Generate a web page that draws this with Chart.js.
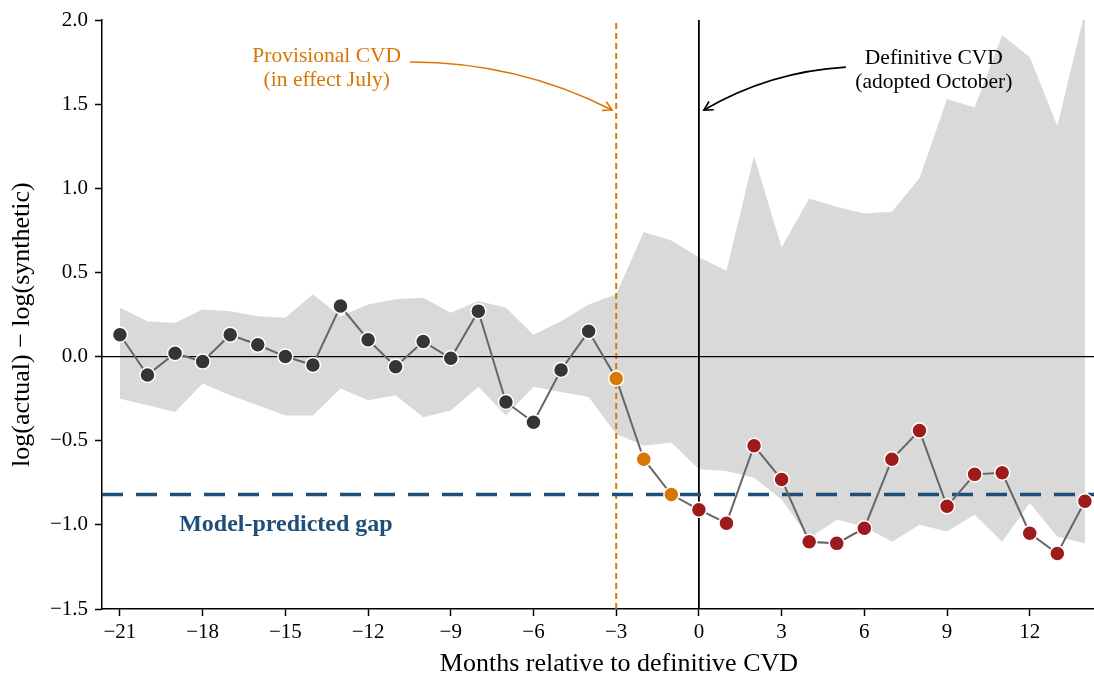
<!DOCTYPE html>
<html>
<head>
<meta charset="utf-8">
<script src="https://cdn.jsdelivr.net/npm/chart.js@4.4.1/dist/chart.umd.min.js"></script>
<style>
  html, body { margin: 0; padding: 0; background: #fff; }
  canvas { display: block; }
</style>
</head>
<body>
<canvas id="gapChart" width="1094" height="674"></canvas>
<script>
// months relative to the definitive CVD
const months = [-21, -20, -19, -18, -17, -16, -15, -14, -13, -12, -11, -10, -9, -8, -7, -6, -5, -4,
                -3, -2, -1, 0, 1, 2, 3, 4, 5, 6, 7, 8, 9, 10, 11, 12, 13, 14];

// log(actual) - log(synthetic)
const gap = [0.13, -0.11, 0.02, -0.03, 0.13, 0.07, 0.00, -0.05, 0.30, 0.10, -0.06, 0.09, -0.01, 0.27,
             -0.27, -0.39, -0.08, 0.15, -0.13, -0.61, -0.82, -0.91, -0.99, -0.53, -0.73, -1.10, -1.11,
             -1.02, -0.61, -0.44, -0.89, -0.70, -0.69, -1.05, -1.17, -0.86];

// placebo band
const bandUpper = [0.29, 0.21, 0.20, 0.28, 0.27, 0.24, 0.23, 0.37, 0.24, 0.31, 0.34, 0.35, 0.26, 0.33,
                   0.29, 0.13, 0.21, 0.31, 0.37, 0.74, 0.69, 0.59, 0.51, 1.19, 0.65, 0.94, 0.89, 0.85,
                   0.86, 1.06, 1.53, 1.48, 1.91, 1.78, 1.37, 2.05];
const bandLower = [-0.25, -0.29, -0.33, -0.16, -0.23, -0.29, -0.35, -0.35, -0.19, -0.26, -0.23, -0.36,
                   -0.32, -0.18, -0.35, -0.18, -0.21, -0.24, -0.46, -0.53, -0.51, -0.67, -0.68, -0.72,
                   -0.85, -1.08, -0.97, -1.01, -1.10, -1.00, -1.04, -0.94, -1.10, -0.87, -1.07, -1.11];

const predictedGap = -0.82;
const provisionalMonth = -3;
const definitiveMonth = 0;

const xTicks = [-21, -18, -15, -12, -9, -6, -3, 0, 3, 6, 9, 12];
const yTicks = [-1.5, -1.0, -0.5, 0.0, 0.5, 1.0, 1.5, 2.0];
const xRange = [-21.65, 14.33];
const yRange = [-1.5, 2.0];

const ORANGE = '#d97706';
const RED = '#9e1b1b';
const DARK = '#353535';
const NAVY = '#1f4e79';
const SERIF = '"Liberation Serif", "Times New Roman", serif';

Chart.defaults.font.family = SERIF;
Chart.defaults.color = '#000';

const fmt = v => (v < 0 ? '\u2212' : '') + Math.abs(v);
const fmt1 = v => (v < 0 ? '\u2212' : '') + Math.abs(v).toFixed(1);

function curvedArrow(ctx, x1, y1, x2, y2, bend, color) {
  const mx = (x1 + x2) / 2, my = (y1 + y2) / 2;
  const cx = mx + bend * (y2 - y1), cy = my - bend * (x2 - x1);
  ctx.save();
  ctx.strokeStyle = color;
  ctx.lineWidth = 1.6;
  ctx.beginPath();
  ctx.moveTo(x1, y1);
  ctx.quadraticCurveTo(cx, cy, x2, y2);
  ctx.stroke();
  const ang = Math.atan2(y2 - cy, x2 - cx);
  const L = 10;
  ctx.beginPath();
  ctx.moveTo(x2 - L * Math.cos(ang - 0.5), y2 - L * Math.sin(ang - 0.5));
  ctx.lineTo(x2, y2);
  ctx.lineTo(x2 - L * Math.cos(ang + 0.5), y2 - L * Math.sin(ang + 0.5));
  ctx.stroke();
  ctx.restore();
}

const notesPlugin = {
  id: 'cvdNotes',
  afterDatasetsDraw(chart) {
    const { ctx, chartArea, scales: { x, y } } = chart;
    ctx.save();
    ctx.textAlign = 'center';
    ctx.textBaseline = 'middle';

    ctx.font = '21.5px ' + SERIF;
    ctx.fillStyle = ORANGE;
    let tx = x.getPixelForValue(-13.5), ty = y.getPixelForValue(1.71);
    ctx.fillText('Provisional CVD', tx, ty - 12);
    ctx.fillText('(in effect July)', tx, ty + 12);
    curvedArrow(ctx, x.getPixelForValue(-10.48), y.getPixelForValue(1.75),
                x.getPixelForValue(-3.15), y.getPixelForValue(1.465), 0.12, ORANGE);

    ctx.fillStyle = '#000';
    tx = x.getPixelForValue(8.52); ty = y.getPixelForValue(1.70);
    ctx.fillText('Definitive CVD', tx, ty - 12);
    ctx.fillText('(adopted October)', tx, ty + 12);
    curvedArrow(ctx, x.getPixelForValue(5.33), y.getPixelForValue(1.72),
                x.getPixelForValue(0.18), y.getPixelForValue(1.465), -0.12, '#000');

    ctx.font = 'bold 24px ' + SERIF;
    ctx.fillStyle = NAVY;
    ctx.fillText('Model-predicted gap', x.getPixelForValue(-14.98), y.getPixelForValue(-1.0));

    // axis titles (the original axes ran a bit past the figure's right edge)
    ctx.fillStyle = '#000';
    ctx.font = '26px ' + SERIF;
    ctx.fillText('Months relative to definitive CVD', x.getPixelForValue(-2.9), chartArea.bottom + 55);
    ctx.translate(chartArea.left - 80, y.getPixelForValue(0.19));
    ctx.rotate(-Math.PI / 2);
    ctx.fillText('log(actual) \u2212 log(synthetic)', 0, 0);
    ctx.restore();
  }
};

const pointColor = c => {
  const m = c.raw ? c.raw.x : 0;
  if (m < provisionalMonth) return DARK;
  if (m < definitiveMonth) return ORANGE;
  return RED;
};

new Chart(document.getElementById('gapChart').getContext('2d'), {
  type: 'line',
  data: {
    datasets: [
      {
        data: months.map((m, i) => ({ x: m, y: bandUpper[i] })),
        backgroundColor: '#d9d9d9', borderWidth: 0, pointRadius: 0, fill: '+1', order: 3
      },
      {
        data: months.map((m, i) => ({ x: m, y: bandLower[i] })),
        backgroundColor: '#d9d9d9', borderWidth: 0, pointRadius: 0, fill: false, order: 3
      },
      {
        data: [{ x: xRange[0], y: 0 }, { x: xRange[1], y: 0 }],
        borderColor: '#000', borderWidth: 1.3, pointRadius: 0, order: 2
      },
      {
        data: [{ x: xRange[0], y: predictedGap }, { x: xRange[1], y: predictedGap }],
        borderColor: NAVY, borderWidth: 3.5, borderDash: [21, 13], pointRadius: 0, order: 2
      },
      {
        data: [{ x: provisionalMonth, y: yRange[0] }, { x: provisionalMonth, y: yRange[1] }],
        borderColor: ORANGE, borderWidth: 2, borderDash: [6, 4], pointRadius: 0, order: 2
      },
      {
        data: [{ x: definitiveMonth, y: yRange[0] }, { x: definitiveMonth, y: yRange[1] }],
        borderColor: '#000', borderWidth: 1.8, pointRadius: 0, order: 2
      },
      {
        data: months.map((m, i) => ({ x: m, y: gap[i] })),
        borderColor: '#666', borderWidth: 2,
        pointRadius: 7.5, pointBorderColor: '#fff', pointBorderWidth: 1.5,
        pointBackgroundColor: pointColor, order: 0
      }
    ]
  },
  options: {
    responsive: false,
    animation: false,
    devicePixelRatio: 1,
    layout: { autoPadding: false, padding: { top: 20, right: 0, left: 0, bottom: 0 } },
    plugins: { legend: { display: false }, tooltip: { enabled: false } },
    scales: {
      x: {
        type: 'linear', min: xRange[0], max: xRange[1],
        afterBuildTicks: s => { s.ticks = xTicks.map(v => ({ value: v })); },
        afterFit: s => { s.height = 65; s.paddingLeft = 0; s.paddingRight = 0; },
        ticks: { callback: v => fmt(v), font: { size: 21 }, padding: 4, maxRotation: 0 },
        grid: { drawOnChartArea: false, drawTicks: true, tickLength: 7, tickWidth: 1.5, tickColor: '#000' },
        border: { display: true, color: '#000', width: 1.5 }
      },
      y: {
        type: 'linear', min: yRange[0], max: yRange[1],
        afterBuildTicks: s => { s.ticks = yTicks.map(v => ({ value: v })); },
        afterFit: s => { s.width = 102; s.paddingTop = 0; s.paddingBottom = 0; },
        ticks: { callback: v => fmt1(v), font: { size: 21 }, padding: 7 },
        grid: { drawOnChartArea: false, drawTicks: true, tickLength: 7, tickWidth: 1.5, tickColor: '#000' },
        border: { display: true, color: '#000', width: 1.5 }
      }
    }
  },
  plugins: [notesPlugin]
});
</script>
</body>
</html>
